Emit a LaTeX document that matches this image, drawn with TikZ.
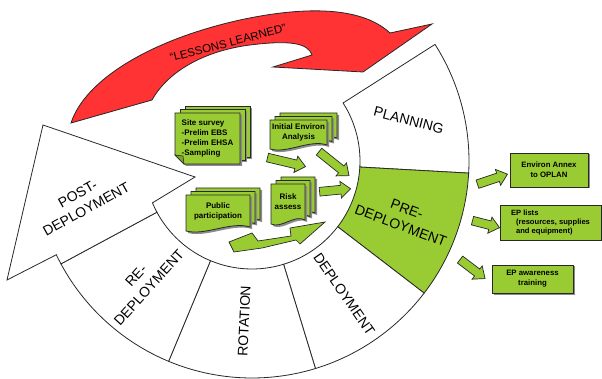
\documentclass[tikz,border=0pt]{standalone}
\usepackage{fontspec}
\setmainfont{Liberation Sans}
\usetikzlibrary{calc,shapes.arrows,shadows}

\definecolor{leafgreen}{RGB}{153,204,51}
\definecolor{lessonred}{RGB}{255,51,51}
\definecolor{edgegray}{RGB}{40,40,40}

\tikzset{
  segment/.style={draw=edgegray,line width=0.8pt,fill=white},
  seglabel/.style={font=\fontsize{14}{17.5}\selectfont,align=center,inner sep=0pt},
  docpage/.style={draw=edgegray,line width=0.8pt,fill=leafgreen,
    drop shadow={shadow xshift=2pt,shadow yshift=-2pt,fill=black!45,opacity=1}},
  doctext/.style={font=\fontsize{8}{10}\bfseries,align=center,inner sep=0pt},
  outbox/.style={draw=edgegray,line width=0.9pt,fill=leafgreen,inner sep=1pt,
    font=\fontsize{7.8}{9.8}\bfseries,align=center,
    drop shadow={shadow xshift=1.5pt,shadow yshift=-1.5pt,fill=black!45,opacity=1}},
  garrow/.style={single arrow,draw=edgegray,line width=0.7pt,fill=leafgreen,inner xsep=0pt,
    inner ysep=4pt,single arrow head extend=4pt,single arrow tip angle=80},
  gshape/.style={draw=edgegray,line width=0.7pt,fill=leafgreen},
  lesson/.style={draw=edgegray,line width=0.8pt,fill=lessonred}
}

% one ring segment between two angles
\newcommand\wheelseg[3]{\path[segment,fill=#3] (#1:108) -- (#1:217)
  arc[start angle=#1,end angle=#2,radius=217] -- (#2:108)
  arc[start angle=#2,end angle=#1,radius=108] -- cycle;}
% one sheet with a wavy lower edge
\newcommand\docsheet[4]{\path[docpage] ({#1},{#2}) -- ({#1+#3},{#2}) -- ({#1+#3},{#2+#4-4})
  .. controls ({#1+0.7*#3},{#2+#4-10}) and ({#1+0.3*#3},{#2+#4+5}) .. ({#1},{#2+#4}) -- cycle;}
\newcommand\docstack[6]{\docsheet{#2+10}{#3-7}{#4}{#5}\docsheet{#2+5}{#3-3.5}{#4}{#5}%
  \docsheet{#2}{#3}{#4}{#5}\node[doctext] (#1) at ({#2+#4/2},{#3+#5/2-2}) {#6};}
% sheets with a folded corner
\newcommand\notestack[6]{\path[docpage] ({#2+10},{#3-7}) rectangle ++(#4,#5);
  \path[docpage] ({#2+5},{#3-3.5}) rectangle ++(#4,#5);
  \path[docpage] ({#2},{#3}) -- ({#2+#4},{#3}) -- ({#2+#4},{#3+#5}) -- ({#2+9},{#3+#5}) -- ({#2},{#3+#5-9}) -- cycle;
  \path[draw=edgegray,line width=0.6pt,fill=leafgreen!80!black] ({#2},{#3+#5-9}) -- ({#2+8},{#3+#5-8}) -- ({#2+9},{#3+#5}) -- cycle;
  \node[doctext,align=left] (#1) at ({#2+#4/2},{#3+#5/2}) {#6};}
% block arrow from one coordinate to another
\newcommand\garrowto[3]{\path let \p1=($(#2)-(#1)$),\n1={atan2(\y1,\x1)},\n2={veclen(\x1,\y1)} in
  node[garrow,rotate=\n1,minimum height=\n2] (#3) at ($(#1)!0.5!(#2)$) {};}

\begin{document}
\begin{tikzpicture}[x=1pt,y=-1pt]
  \useasboundingbox (0,0) rectangle (602,379);

  % the ring
  \begin{scope}[shift={(252,161)}]
    \wheelseg{-32.5}{3.2}{white}
    \wheelseg{3.2}{37.5}{leafgreen}
    \wheelseg{37.5}{73}{white}
    \wheelseg{73}{112.6}{white}
    \wheelseg{112.6}{151.7}{white}
    \path[segment] (151.7:108) arc[start angle=151.7,end angle=157.2,radius=108]
      -- (-57,16) -- (-209,-36) -- (-245,119) -- (154.4:217)
      arc[start angle=154.4,end angle=151.7,radius=217] -- cycle;
    \node[seglabel,rotate=-14.6] (planning) at (-14.6:162) {PLANNING};
    \node[seglabel,rotate=-20.4] (predeploy) at (20.4:162) {PRE-\\DEPLOYMENT};
    \node[seglabel,rotate=-55.3] (deploy) at (55.3:162) {DEPLOYMENT};
    \node[seglabel,rotate=87.2] (rotation) at (92.8:160) {ROTATION};
    \node[seglabel,rotate=47.8] (redeploy) at (132.2:163) {RE-\\DEPLOYMENT};
    \node[seglabel,rotate=29] (postdeploy) at (-170,40.5) {POST-\\DEPLOYMENT};
  \end{scope}

  % lessons learned
  \path[lesson] (71,123) .. controls (85,80) and (150,40) .. (240,20)
    .. controls (300,7) and (360,5) .. (390,33) -- (432,24) -- (363,72) -- (273,67) -- (312,55)
    .. controls (308,43) and (290,40) .. (250,45) .. controls (210,50) and (170,68) .. (152,100) -- cycle;
  \node[font=\fontsize{11.5}{13}\selectfont,rotate=14.4,inner sep=0pt] (lessons) at (228,43) {“LESSONS LEARNED”};

  % documents
  \notestack{site}{175}{113}{65}{51}{Site survey\\-Prelim EBS\\-Prelim EHSA\\-Sampling}
  \docstack{initial}{270}{120}{57}{29}{Initial Environ\\Analysis}
  \docstack{risk}{271}{184}{34}{40}{Risk\\assess}
  \docstack{public}{186}{195}{64}{36}{Public\\participation}

  \coordinate (t1) at (265,157); \coordinate (h1) at (303,166);
  \coordinate (t2) at (317,150); \coordinate (h2) at (347,174);
  \coordinate (t3) at (317,192); \coordinate (h3) at (348,189);
  \garrowto{t1}{h1}{g1}
  \garrowto{t2}{h2}{g2}
  \garrowto{t3}{h3}{g3}
  \path[gshape] (229,242) -- (252,233) -- (258,241) -- (291,236) -- (290,228) -- (325,222)
    -- (300,244) -- (296,240) -- (262,248) -- (234,252) -- cycle;

  % outputs
  \node[outbox,minimum width=78pt,minimum height=34pt] (annex) at (549,170) {Environ Annex\\to OPLAN};
  \node[outbox,minimum width=101pt,minimum height=35pt,align=left,font=\fontsize{7.6}{8.6}\bfseries]
    (eplists) at (550.5,222.5) {EP lists\\\hspace*{5pt}(resources, supplies\\\hspace*{5pt}and equipment)};
  \node[outbox,minimum width=81pt,minimum height=28pt] (training) at (532.5,279) {EP awareness\\training};

  \coordinate (t4) at (475,185); \coordinate (h4) at (505,175);
  \coordinate (t5) at (470,220); \coordinate (h5) at (497,227);
  \coordinate (t6) at (458,258); \coordinate (h6) at (483,277);
  \garrowto{t4}{h4}{g4}
  \garrowto{t5}{h5}{g5}
  \garrowto{t6}{h6}{g6}
\end{tikzpicture}
\end{document}
